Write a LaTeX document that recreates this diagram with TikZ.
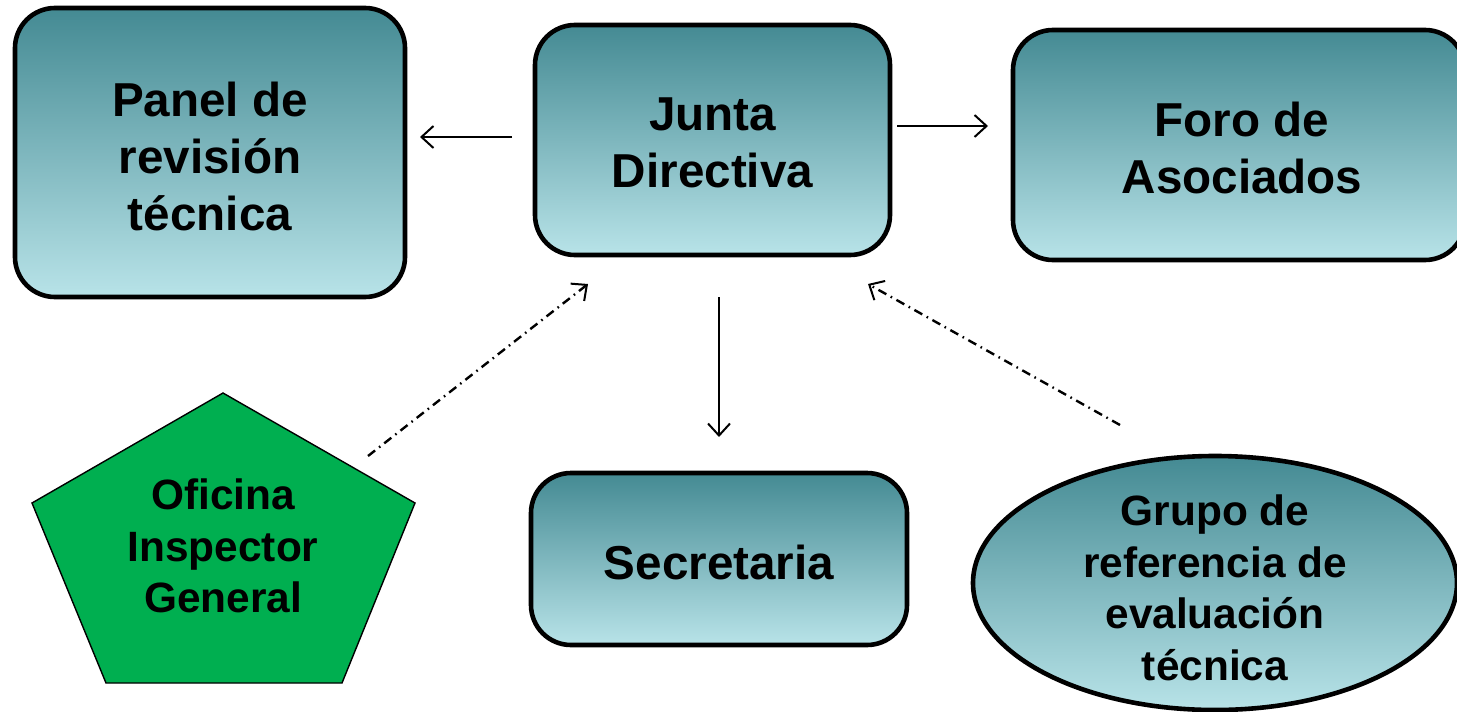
\documentclass[tikz,border=0pt]{standalone}
\usepackage{fontspec}
\setmainfont{Liberation Sans}
\usetikzlibrary{arrows.meta,shapes.geometric}
\definecolor{tealtop}{HTML}{448A93}
\definecolor{tealbot}{HTML}{B8E3E8}
\definecolor{pentgreen}{HTML}{00AF50}
\tikzset{
  gbox/.style={draw=black, line width=2.3pt, top color=tealtop, bottom color=tealbot, inner sep=0pt},
  rbox/.style={gbox, rectangle, rounded corners=20pt},
  bigtxt/.style={font=\fontsize{23.8}{28.5}\selectfont\bfseries, align=center},
  smalltxt/.style={font=\fontsize{21.2}{25.8}\selectfont\bfseries, align=center},
  solidarrow/.style={line width=1pt, -{Straight Barb[length=6pt,width=11pt,line width=1pt]}},
  dasharrow/.style={line width=1.2pt, dash pattern=on 4.5pt off 2.5pt on 0.8pt off 2.5pt, -{Straight Barb[length=6pt,width=11pt,line width=1pt]}}
}
\begin{document}
\begin{tikzpicture}[x=0.5pt,y=-0.5pt]
\useasboundingbox (0,0) rectangle (1457,712);
\fill[white] (0,0) rectangle (1457,712);
% boxes
\node[rbox, minimum width=195pt, minimum height=144.5pt] (panel) at (210,152.5) {};
\node[bigtxt] (paneltxt) at (210,156) {Panel de\\revisión\\técnica};
\node[rbox, minimum width=177.5pt, minimum height=115pt] (junta) at (712.5,140) {};
\node[bigtxt] (juntatxt) at (712.5,143) {Junta\\Directiva};
\node[rbox, minimum width=226pt, minimum height=115pt] (foro) at (1239,145) {};
\node[bigtxt] (forotxt) at (1242,148) {Foro de\\Asociados};
\node[rbox, minimum width=188pt, minimum height=86pt] (secr) at (719,559) {};
\node[bigtxt] (secrtxt) at (719,562) {Secretaria};
\node[gbox, ellipse, minimum width=242pt, minimum height=127pt] (grupo) at (1215,583) {};
\node[smalltxt] (grupotxt) at (1215,588) {Grupo de\\referencia de\\evaluación\\técnica};
% pentagon
\draw[fill=pentgreen, draw=black, line width=0.7pt] (223,393) -- (415,503) -- (342,683) -- (106,683) -- (32,503) -- cycle;
\node[smalltxt] (ofi) at (223,546) {Oficina\\Inspector\\General};
% connectors
\coordinate (a1) at (512,137); \coordinate (a2) at (420,137);
\coordinate (b1) at (897,126); \coordinate (b2) at (988,126);
\coordinate (c1) at (719,297); \coordinate (c2) at (719,437);
\coordinate (d1) at (368,456); \coordinate (d2) at (588,284);
\coordinate (e1) at (1120,425); \coordinate (e2) at (868,284);
\draw[solidarrow] (a1) -- (a2);
\draw[solidarrow] (b1) -- (b2);
\draw[solidarrow] (c1) -- (c2);
\draw[dasharrow] (d1) -- (d2);
\draw[dasharrow] (e1) -- (e2);
\end{tikzpicture}
\end{document}
